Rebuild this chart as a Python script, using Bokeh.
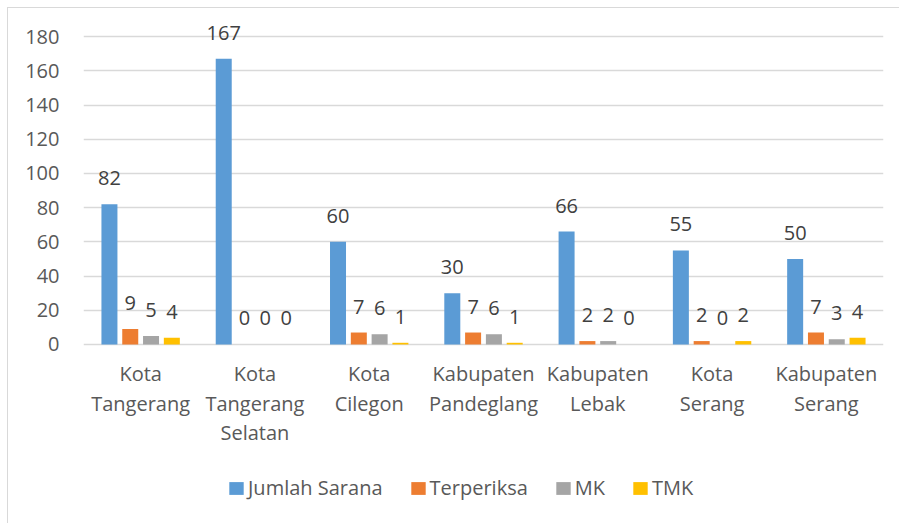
from bokeh.plotting import figure
from bokeh.models import ColumnDataSource, FactorRange, Range1d, FixedTicker, Legend, LegendItem
from bokeh.transform import dodge
from bokeh.core.properties import value
from bokeh.embed import file_html
from bokeh.resources import INLINE

categories = ["Kota\nTangerang", "Kota\nTangerang\nSelatan", "Kota\nCilegon",
              "Kabupaten\nPandeglang", "Kabupaten\nLebak", "Kota\nSerang", "Kabupaten\nSerang"]
jumlah_sarana = [82, 167, 60, 30, 66, 55, 50]
terperiksa = [9, 0, 7, 7, 2, 2, 7]
mk = [5, 0, 6, 6, 2, 0, 3]
tmk = [4, 0, 1, 1, 0, 2, 4]
series_names = ["Jumlah Sarana", "Terperiksa", "MK", "TMK"]
y_ticks = [0, 20, 40, 60, 80, 100, 120, 140, 160, 180]

colors = ["#5B9BD5", "#ED7D31", "#A5A5A5", "#FFC000"]
offsets = [-0.273, -0.091, 0.091, 0.273]
FONT = "Open Sans"

data = dict(cat=categories, base=[0] * len(categories))
series = [jumlah_sarana, terperiksa, mk, tmk]
keys = ["s0", "s1", "s2", "s3"]
for k, vals in zip(keys, series):
    data[k] = vals
    data[k + "_lab"] = [str(v) for v in vals]
source = ColumnDataSource(data)

# frame covers the area below the baseline too, so that category labels and legend are drawn inside it
p = figure(width=899, height=523, output_backend="svg", toolbar_location=None,
           x_range=FactorRange(*categories, range_padding=0),
           y_range=Range1d(-104.65, 190),
           min_border_left=83, min_border_right=16, min_border_top=19, min_border_bottom=0)
p.x_range.factor_padding = 0
p.border_fill_color = None
p.background_fill_color = None
p.styles = {"background": "linear-gradient(#d9d9d9,#d9d9d9) 7px 7px / 1px 100% no-repeat, "
                          "linear-gradient(#d9d9d9,#d9d9d9) 7px 7px / 100% 1px no-repeat, white"}
p.outline_line_color = None

renderers = []
for k, c, off in zip(keys, colors, offsets):
    r = p.vbar(x=dodge("cat", off, range=p.x_range), top=k, width=0.14, source=source,
               fill_color=c, line_color=None)
    renderers.append(r)
    p.text(x=dodge("cat", off, range=p.x_range), y=k, text=k + "_lab", source=source,
           y_offset=-26, text_align="center", text_baseline="middle",
           text_font=value(FONT), text_font_size="20px", text_color="#404040")

# category labels under the baseline
p.text(x="cat", y="base", text="cat", source=source, y_offset=16,
       text_align="center", text_baseline="top", text_line_height=1.09,
       text_font=value(FONT), text_font_size="20px", text_color="#595959")

# axes
p.yaxis.ticker = FixedTicker(ticks=y_ticks)
p.yaxis.axis_line_color = None
p.yaxis.major_tick_line_color = None
p.yaxis.minor_tick_line_color = None
p.yaxis.major_label_standoff = 18
p.yaxis.major_label_text_font = FONT
p.yaxis.major_label_text_font_size = "20px"
p.yaxis.major_label_text_color = "#595959"
p.xaxis.visible = False

p.xgrid.grid_line_color = None
p.ygrid.grid_line_color = "#d9d9d9"
p.ygrid.grid_line_width = 1.5
p.ygrid.ticker = FixedTicker(ticks=y_ticks)

legend = Legend(items=[LegendItem(label=n, renderers=[r]) for n, r in zip(series_names, renderers)],
                orientation="horizontal", location=(144, 22),
                glyph_width=18, glyph_height=16, label_standoff=3, spacing=26,
                padding=0, margin=0, border_line_color=None, background_fill_alpha=0,
                label_text_font=FONT, label_text_font_size="20px", label_text_color="#595959",
                label_height=20)
p.add_layout(legend, "center")

open("out.html", "w").write(file_html(p, INLINE))
